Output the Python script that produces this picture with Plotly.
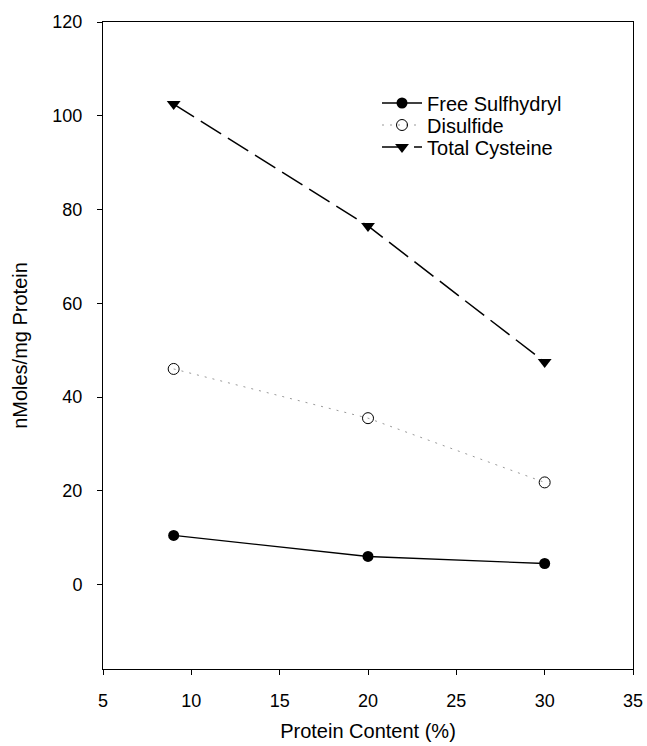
import plotly.graph_objects as go

protein_content = [9, 20, 30]
free_sulfhydryl = [10.5, 6.0, 4.5]
disulfide = [46.0, 35.5, 21.8]
total_cysteine = [102.5, 76.5, 47.5]

x_ticks = [5, 10, 15, 20, 25, 30, 35]
y_ticks = [0, 20, 40, 60, 80, 100, 120]

FONT = "Liberation Sans, Arial"

fig = go.Figure()
fig.add_trace(go.Scatter(
    x=protein_content, y=free_sulfhydryl, name="Free Sulfhydryl",
    mode="lines+markers", legend="legend",
    line=dict(color="black", width=1.3),
    marker=dict(symbol="circle", size=11, color="black"),
))
fig.add_trace(go.Scatter(
    x=protein_content, y=disulfide, name="Disulfide",
    mode="lines+markers", legend="legend2",
    line=dict(color="#999999", width=1, dash="2px,6px"),
    marker=dict(symbol="circle-open", size=11, color="black", line=dict(width=1)),
))
fig.add_trace(go.Scatter(
    x=protein_content, y=total_cysteine, name="Total Cysteine",
    mode="lines+markers", legend="legend3",
    line=dict(color="black", width=1.5, dash="24px,8px"),
    marker=dict(symbol="triangle-down", size=12, color="black"),
))

axis_common = dict(
    showline=True, linecolor="black", linewidth=1, mirror=True,
    ticks="outside", ticklen=5, tickcolor="black", showgrid=False,
    zeroline=False, tickfont=dict(family=FONT, size=18, color="black"),
)

legend_common = dict(x=0.517, xanchor="left", yanchor="middle",
                     bgcolor="rgba(0,0,0,0)", font=dict(family=FONT, size=20, color="black"),
                     itemwidth=40)

fig.update_layout(
    width=647, height=746,
    margin=dict(l=103, r=14, t=22, b=77, autoexpand=False),
    paper_bgcolor="white", plot_bgcolor="white",
    font=dict(family=FONT, size=20, color="black"),
    showlegend=True,
    legend=dict(y=0.8748, **legend_common),
    legend2=dict(y=0.8408, **legend_common),
    legend3=dict(y=0.8068, **legend_common),
)
fig.update_xaxes(range=[5, 35], tickvals=x_ticks, ticklabelstandoff=10, **axis_common)
fig.update_yaxes(range=[-18, 120], tickvals=y_ticks, ticklabelstandoff=11, **axis_common)
fig.update_xaxes(title_text="Protein Content (%)", title_standoff=14,
                 title_font_size=20, title_font_family=FONT, title_font_color="black")
fig.update_yaxes(title_text="nMoles/mg Protein", title_standoff=19,
                 title_font_size=20, title_font_family=FONT, title_font_color="black")

fig.write_html(
    "out.html",
    config={"displayModeBar": False},
    post_script="document.body.style.margin='0';document.body.style.overflow='hidden';",
)
